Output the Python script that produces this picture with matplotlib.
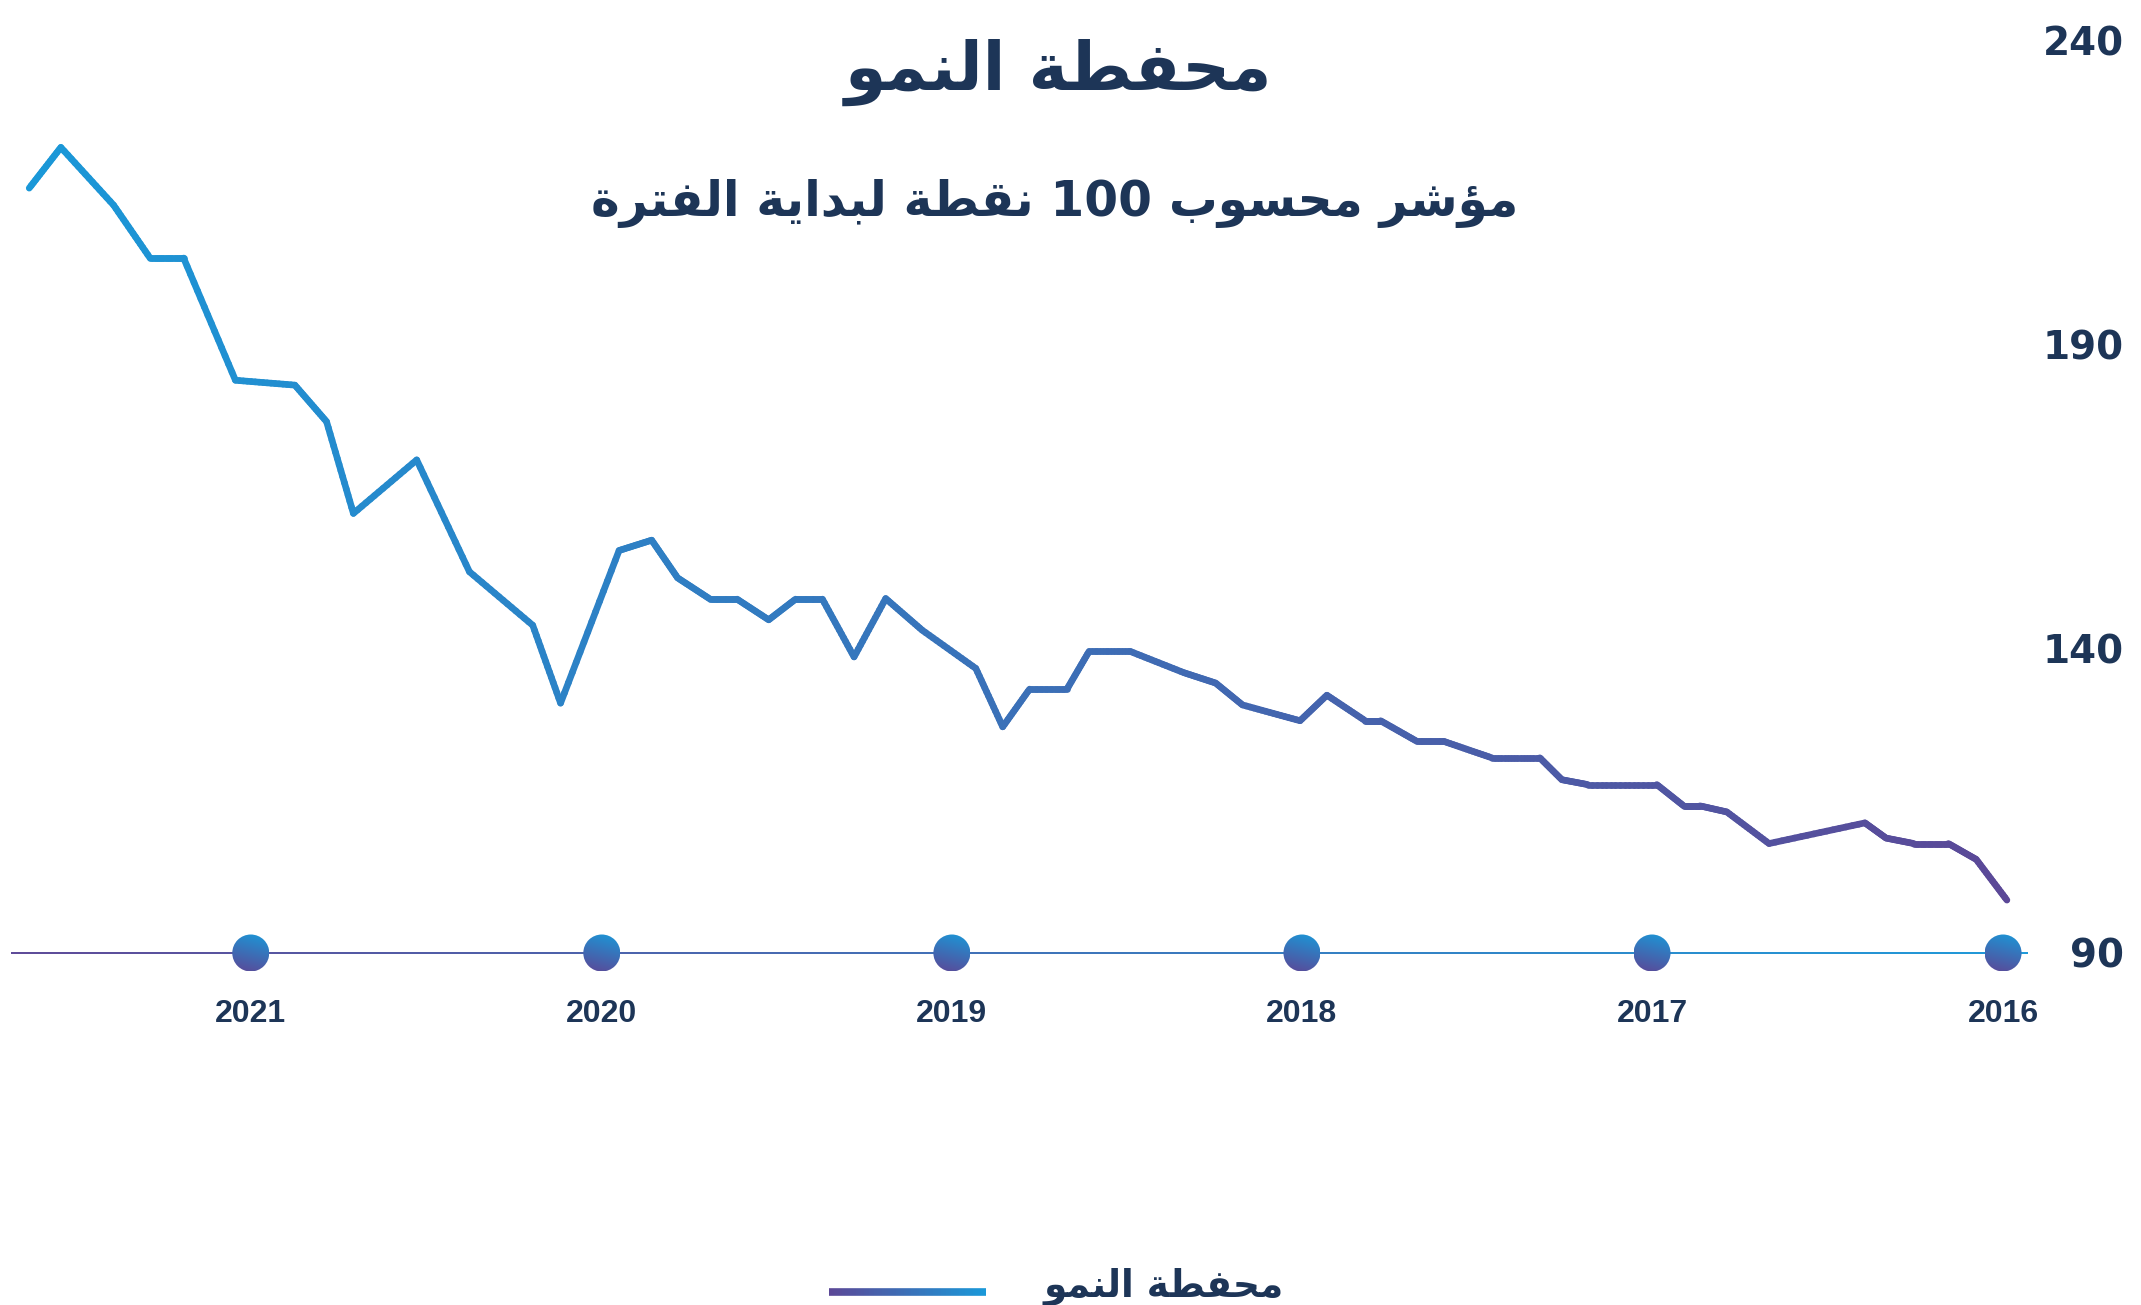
import re
import numpy as np
import matplotlib
matplotlib.use("Agg")
import matplotlib.pyplot as plt
import matplotlib.dates as mdates
from matplotlib.collections import LineCollection
from matplotlib.colors import LinearSegmentedColormap
from matplotlib.patches import Circle

# data (index, start = 100)
dates = ["2015-12-28", "2016-01-29", "2016-02-27", "2016-04-03", "2016-05-02",
         "2016-05-24", "2016-09-01", "2016-10-15", "2016-11-12", "2016-11-29",
         "2016-12-27", "2017-03-09", "2017-04-05", "2017-04-28", "2017-06-17",
         "2017-08-06", "2017-09-03", "2017-10-11", "2017-10-27", "2017-12-06",
         "2018-01-03", "2018-03-04", "2018-04-01", "2018-05-04", "2018-06-29",
         "2018-08-11", "2018-09-03", "2018-10-12", "2018-11-09", "2018-12-07",
         "2019-02-01", "2019-03-11", "2019-04-13", "2019-05-16", "2019-06-13",
         "2019-07-11", "2019-08-13", "2019-09-10", "2019-10-14", "2019-11-10",
         "2019-12-14", "2020-02-13", "2020-03-13", "2020-05-18", "2020-07-12",
         "2020-09-16", "2020-10-14", "2020-11-16", "2021-01-17", "2021-03-12",
         "2021-04-16", "2021-05-24", "2021-07-18", "2021-08-20"]
values = [98.7, 105.4, 108.0, 108.0, 108.9,
          111.4, 108.0, 113.2, 114.2, 114.2,
          117.7, 117.7, 118.5, 122.1, 122.1,
          124.8, 124.8, 128.2, 128.2, 132.4,
          128.2, 130.8, 134.4, 136.1, 139.6,
          139.6, 133.4, 133.4, 127.2, 136.8,
          143.1, 148.3, 138.7, 148.2, 148.2,
          144.8, 148.2, 148.2, 151.7, 157.9,
          156.2, 131.1, 143.9, 152.7, 171.1,
          162.3, 177.4, 183.4, 184.2, 204.3,
          204.3, 213.0, 222.5, 215.8]
years = [2016, 2017, 2018, 2019, 2020, 2021]
yticks = [90, 140, 190, 240]

title = "محفطة النمو"
subtitle = "مؤشر محسوب 100 نقطة لبداية الفترة"
legend_label = "محفطة النمو"

NAVY = "#1d3557"
PURPLE = "#5b4897"
BLUE = "#1a98d8"
cmap = LinearSegmentedColormap.from_list("grad", [PURPLE, BLUE])

# matplotlib does no arabic shaping, so pick presentation forms by hand
# (isolated, final, initial, medial)
FORMS = {
    "ا": ("\uFE8D", "\uFE8E", None, None),
    "ب": ("\uFE8F", "\uFE90", "\uFE91", "\uFE92"),
    "ة": ("\uFE93", "\uFE94", None, None),
    "ت": ("\uFE95", "\uFE96", "\uFE97", "\uFE98"),
    "ح": ("\uFEA1", "\uFEA2", "\uFEA3", "\uFEA4"),
    "د": ("\uFEA9", "\uFEAA", None, None),
    "ر": ("\uFEAD", "\uFEAE", None, None),
    "س": ("\uFEB1", "\uFEB2", "\uFEB3", "\uFEB4"),
    "ش": ("\uFEB5", "\uFEB6", "\uFEB7", "\uFEB8"),
    "ط": ("\uFEC1", "\uFEC2", "\uFEC3", "\uFEC4"),
    "ف": ("\uFED1", "\uFED2", "\uFED3", "\uFED4"),
    "ق": ("\uFED5", "\uFED6", "\uFED7", "\uFED8"),
    "ل": ("\uFEDD", "\uFEDE", "\uFEDF", "\uFEE0"),
    "م": ("\uFEE1", "\uFEE2", "\uFEE3", "\uFEE4"),
    "ن": ("\uFEE5", "\uFEE6", "\uFEE7", "\uFEE8"),
    "و": ("\uFEED", "\uFEEE", None, None),
    "ي": ("\uFEF1", "\uFEF2", "\uFEF3", "\uFEF4"),
    "ؤ": ("\uFE85", "\uFE86", None, None),
}


def shape(text):
    out = []
    for i, c in enumerate(text):
        if c not in FORMS:
            out.append(c)
            continue
        prev = text[i - 1] if i > 0 else ""
        nxt = text[i + 1] if i + 1 < len(text) else ""
        con_prev = prev in FORMS and FORMS[prev][2] is not None
        con_next = nxt in FORMS and FORMS[c][2] is not None
        iso, fin, ini, med = FORMS[c]
        if con_prev and con_next:
            out.append(med)
        elif con_prev:
            out.append(fin)
        elif con_next:
            out.append(ini)
        else:
            out.append(iso)
    tokens = re.findall(r"\d+|\D", "".join(out))
    return "".join(reversed(tokens))


W, H = 2141, 1305
fig = plt.figure(figsize=(W / 100, H / 100), dpi=100)
ax = fig.add_axes([11 / W, 1 - 953 / H, (2028 - 11) / W, (953 - 41) / H])

xs = mdates.date2num(np.array(dates, dtype="datetime64[D]"))
ys = np.array(values)
x_left = mdates.date2num(np.datetime64("2021-09-08"))
x_right = mdates.date2num(np.datetime64("2015-12-06"))
ax.set_xlim(x_left, x_right)
ax.set_ylim(90, 240)

# gradient line: split every segment in small pieces
segs, cvals = [], []
for i in range(len(xs) - 1):
    tx = np.linspace(xs[i], xs[i + 1], 16)
    ty = np.linspace(ys[i], ys[i + 1], 16)
    for k in range(15):
        segs.append([(tx[k], ty[k]), (tx[k + 1], ty[k + 1])])
        cvals.append(((tx[k] + tx[k + 1]) / 2 - xs.min()) / (xs.max() - xs.min()))
lc = LineCollection(segs, colors=cmap(np.array(cvals)), linewidth=4.8,
                    capstyle="round", joinstyle="round", zorder=3)
ax.add_collection(lc)

# baseline at 90, purple on the left to blue on the right
bx = np.linspace(x_left, x_right, 200)
bsegs = [[(bx[k], 90), (bx[k + 1], 90)] for k in range(len(bx) - 1)]
bcol = cmap(np.linspace(0, 1, len(bsegs)))
ax.add_collection(LineCollection(bsegs, colors=bcol, linewidth=1.4, zorder=2, clip_on=False))

for s in ax.spines.values():
    s.set_visible(False)

year_x = mdates.date2num(np.array([f"{y}-01-01" for y in years], dtype="datetime64[D]"))
ax.set_xticks(year_x)
ax.set_xticklabels([str(y) for y in years], fontsize=23, fontweight="bold",
                   family="Liberation Sans", color=NAVY)
ax.tick_params(axis="x", length=0, pad=33)

ax.yaxis.tick_right()
ax.set_yticks(yticks)
ax.set_yticklabels([str(v) for v in yticks], fontsize=28, fontweight="bold",
                   family="DejaVu Sans", color=NAVY)
for lab in ax.get_yticklabels():
    lab.set_horizontalalignment("right")
ax.tick_params(axis="y", length=0, pad=69)

# overlay in pixel units for the round gradient markers and the legend
ov = fig.add_axes([0, 0, 1, 1], zorder=5)
ov.set_xlim(0, W)
ov.set_ylim(0, H)
ov.axis("off")
ov.patch.set_alpha(0)

n = 64
gi, gj = np.mgrid[0:n, 0:n] / (n - 1)
grad = 0.8 * gi + 0.2 * gj
r = 18.5
for yx in year_x:
    px, py = ax.transData.transform((yx, 90))
    im = ov.imshow(grad, cmap=cmap, origin="lower", aspect="auto",
                   extent=[px - r, px + r, py - r, py + r], zorder=6)
    circ = Circle((px, py), r, transform=ov.transData, facecolor="none", edgecolor="none")
    ov.add_patch(circ)
    im.set_clip_path(circ)
ov.set_xlim(0, W)
ov.set_ylim(0, H)

# legend
lx = np.linspace(829, 986, 60)
lsegs = [[(lx[k], H - 1292), (lx[k + 1], H - 1292)] for k in range(len(lx) - 1)]
ov.add_collection(LineCollection(lsegs, colors=cmap(np.linspace(0, 1, len(lsegs))),
                                 linewidth=5.5, capstyle="butt"))
fig.text(1164 / W, 1 - 1297 / H, shape(legend_label), ha="center", va="baseline",
         fontsize=27, fontweight="bold", family="DejaVu Sans", color=NAVY)

fig.text(1058 / W, 1 - 90 / H, shape(title), ha="center", va="baseline",
         fontsize=48, fontweight="bold", family="DejaVu Sans", color=NAVY)
fig.text(1055 / W, 1 - 216 / H, shape(subtitle), ha="center", va="baseline",
         fontsize=35, fontweight="bold", family="DejaVu Sans", color=NAVY)

fig.savefig("out.png", dpi=100, facecolor="white")
